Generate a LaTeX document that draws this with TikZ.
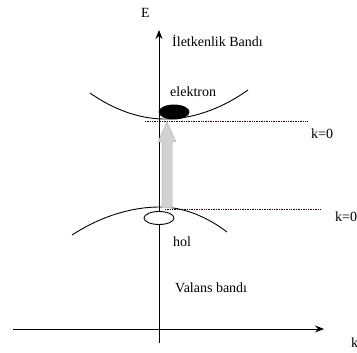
\documentclass[tikz,border=0pt]{standalone}
\usepackage{fontspec}
\setmainfont{Liberation Serif}
\usetikzlibrary{arrows.meta,shapes.geometric}
\tikzset{
  lbl/.style={anchor=base west,inner sep=0pt,font=\fontsize{14}{16}\selectfont},
  axis/.style={line width=0.9pt,-{Stealth[length=9pt,width=7pt]}},
  band/.style={line width=0.9pt},
  kline/.style={densely dotted,line width=0.7pt,black!70!violet},
  carrier/.style={ellipse,draw,line width=0.9pt,inner sep=0pt,minimum width=30pt,minimum height=14pt}
}
\begin{document}
\begin{tikzpicture}[x=1pt,y=-1pt]
\useasboundingbox (0,0) rectangle (357,353);
% axes
\coordinate (vb) at (159,343);
\coordinate (vt) at (159,30);
\coordinate (hl) at (13,329);
\coordinate (hr) at (324,329);
\draw[axis] (vb) -- (vt);
\draw[axis] (hl) -- (hr);
% bands
\draw[band] (90,93) parabola bend (165,119) (248,90);
\draw[band] (72,235) parabola bend (160,207) (227,232);
% k=0 lines
\coordinate (k1a) at (145,121);
\coordinate (k1b) at (307,121);
\coordinate (k2a) at (165,209);
\coordinate (k2b) at (320,209);
\draw[kline] (k1a) -- (k1b);
\draw[kline] (k2a) -- (k2b);
% gray transition arrow
\coordinate (tip) at (167,122);
\fill[gray!35,draw=gray!60,line width=0.5pt]
  (162,208) -- (162,142) -- (158,142) -- (tip) -- (176,142) -- (172,142) -- (172,208) -- cycle;
% carriers
\node[carrier,fill=black] (el) at (174,112) {};
\node[carrier,fill=white,minimum height=13pt] (ho) at (159,218) {};
% labels
\node[lbl] (E) at (141,18) {E};
\node[lbl] (cb) at (172,47) {İletkenlik Bandı};
\node[lbl] (elt) at (170,97) {elektron};
\node[lbl] (k1) at (311,139) {k=0};
\node[lbl] (k2) at (335,222) {k=0};
\node[lbl] (hol) at (173,247) {hol};
\node[lbl] (vbl) at (175,293) {Valans bandı};
\node[lbl] (k) at (351,348) {k};
\end{tikzpicture}
\end{document}
